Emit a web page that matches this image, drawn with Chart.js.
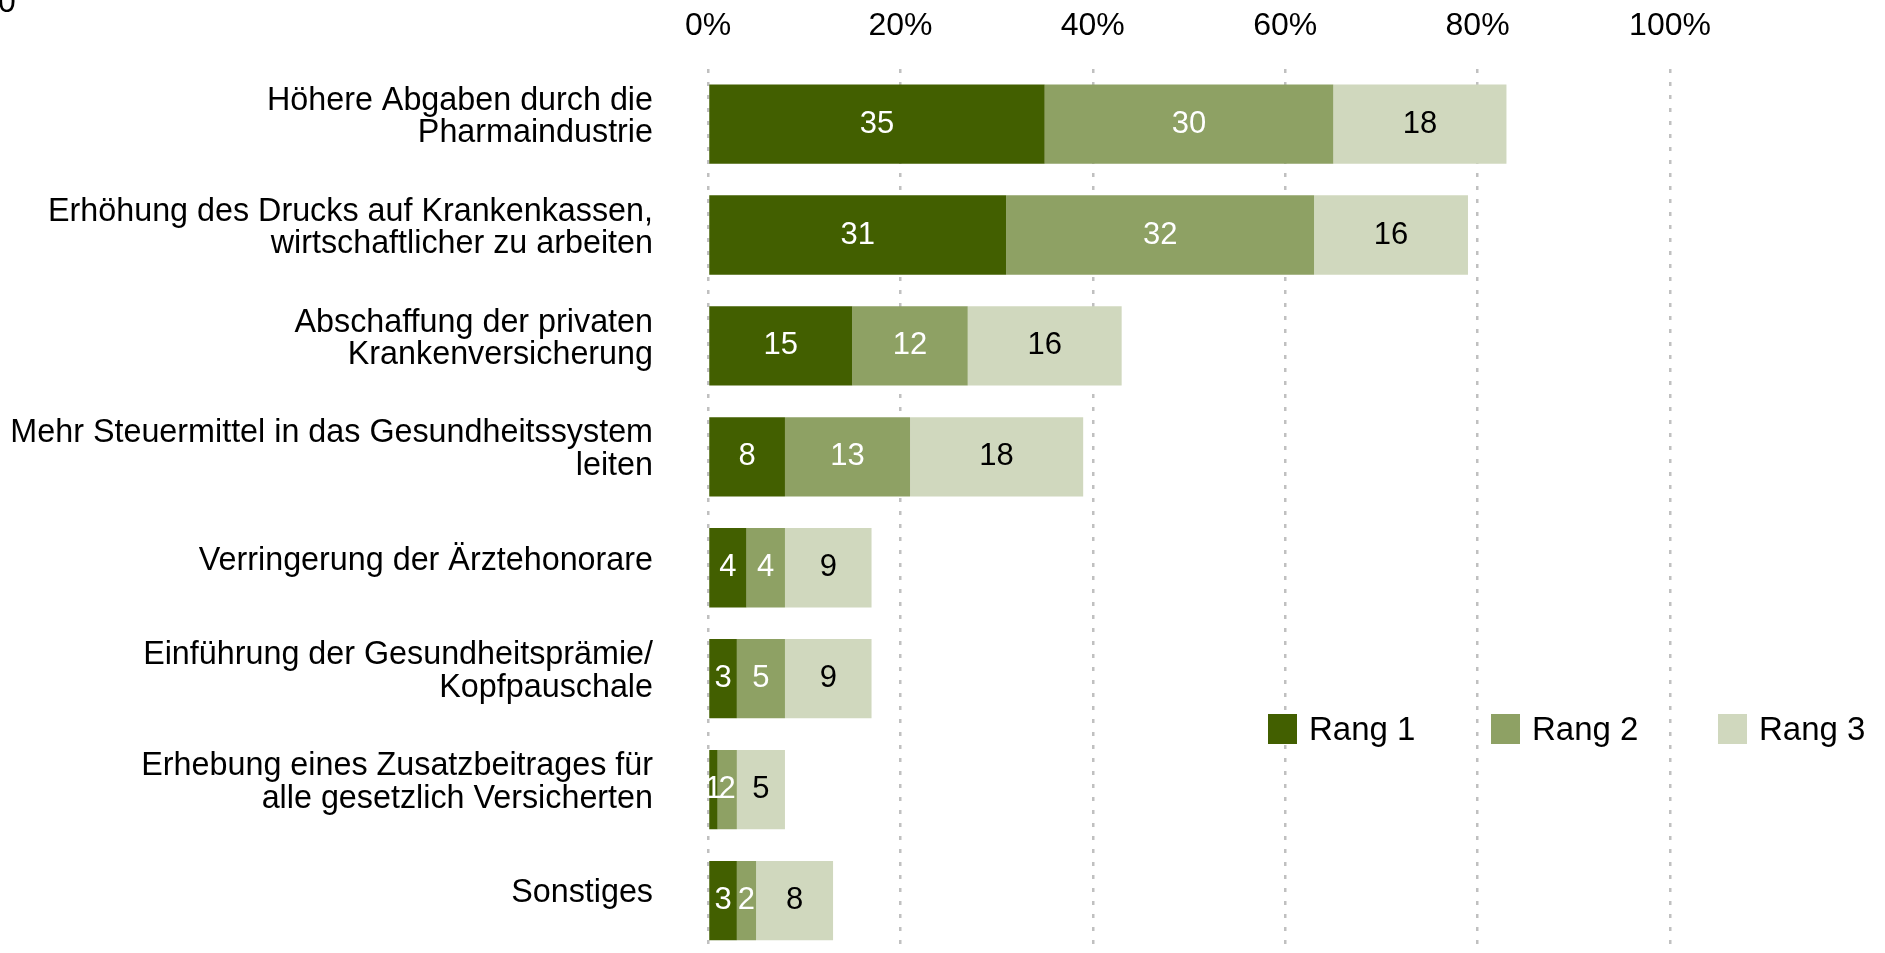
<!DOCTYPE html>
<html lang="de">
<head>
<meta charset="utf-8">
<title>Rangfolge der Maßnahmen</title>
<script src="https://cdn.jsdelivr.net/npm/chart.js"></script>
<style>
  html, body { margin: 0; padding: 0; overflow: hidden; background: #ffffff; }
  #wrap { position: relative; width: 1885px; height: 953px; overflow: hidden; }
  #rankChart { display: block; }
</style>
</head>
<body>
<div id="wrap"><canvas id="rankChart" width="1885" height="960"></canvas></div>
<script>
const categories = [
    ['Höhere Abgaben durch die', 'Pharmaindustrie'],
    ['Erhöhung des Drucks auf Krankenkassen,', 'wirtschaftlicher zu arbeiten'],
    ['Abschaffung der privaten', 'Krankenversicherung'],
    ['Mehr Steuermittel in das Gesundheitssystem', 'leiten'],
    'Verringerung der Ärztehonorare',
    ['Einführung der Gesundheitsprämie/', 'Kopfpauschale'],
    ['Erhebung eines Zusatzbeitrages für', 'alle gesetzlich Versicherten'],
    'Sonstiges'
];
const seriesNames = ['Rang 1', 'Rang 2', 'Rang 3'];
const rang1 = [35, 31, 15, 8, 4, 3, 1, 3];
const rang2 = [30, 32, 12, 13, 4, 5, 2, 2];
const rang3 = [18, 16, 16, 18, 9, 9, 5, 8];
const tickValues = [0, 20, 40, 60, 80, 100];

const colors = ['#425f00', '#8ea164', '#d0d8be'];
const labelColors = ['#ffffff', '#ffffff', '#000000'];
const FONT = '"Liberation Sans", Arial, sans-serif';

/*
 Write the value in the middle of every bar segment
*/
const valueLabels = {
    id: 'valueLabels',
    afterDatasetsDraw(chart) {
        const ctx = chart.ctx;
        ctx.save();
        ctx.font = '31px ' + FONT;
        ctx.textAlign = 'center';
        ctx.textBaseline = 'middle';
        chart.data.datasets.forEach((ds, i) => {
            chart.getDatasetMeta(i).data.forEach((bar, j) => {
                ctx.fillStyle = labelColors[i];
                ctx.fillText(ds.data[j], (bar.x + bar.base) / 2, bar.y);
            });
        });
        ctx.restore();
    }
};

/*
 Legend sits inside the plot, lower right
*/
const rangLegend = {
    id: 'rangLegend',
    afterDraw(chart) {
        const ctx = chart.ctx;
        const boxX = [1268, 1491, 1718];
        ctx.save();
        ctx.font = '33px ' + FONT;
        ctx.textAlign = 'left';
        ctx.textBaseline = 'middle';
        chart.data.datasets.forEach((ds, i) => {
            ctx.fillStyle = ds.backgroundColor;
            ctx.fillRect(boxX[i], 714, 29, 30);
            ctx.fillStyle = '#000000';
            ctx.fillText(ds.label, boxX[i] + 41, 731);
        });
        // leftover digit cut at the top edge of the original picture
        ctx.font = '32px ' + FONT;
        ctx.textBaseline = 'alphabetic';
        ctx.fillText('0', -2, 12);
        ctx.restore();
    }
};

const ctx = document.getElementById('rankChart');
const rankChart = new Chart(ctx, {
    type: 'bar',
    data: {
        labels: categories,
        datasets: [rang1, rang2, rang3].map((values, i) => ({
            label: seriesNames[i],
            data: values,
            backgroundColor: colors[i],
            borderWidth: 0,
            barPercentage: 1,
            categoryPercentage: 0.715
        }))
    },
    options: {
        indexAxis: 'y',
        responsive: false,
        animation: false,
        devicePixelRatio: 1,
        layout: {
            padding: { top: 0, left: 0, right: 215, bottom: 4 }
        },
        plugins: {
            legend: { display: false },
            tooltip: { enabled: false }
        },
        scales: {
            x: {
                position: 'top',
                stacked: true,
                min: 0,
                max: 100,
                afterBuildTicks: (scale) => {
                    scale.ticks = tickValues.map(v => ({ value: v }));
                },
                afterFit: (scale) => {
                    scale.height = 68.6;
                    scale.paddingLeft = 0;
                    scale.paddingRight = 0;
                },
                grid: {
                    display: true,
                    drawTicks: false,
                    color: '#c0c0c0',
                    lineWidth: 2.5
                },
                border: { display: false, dash: [4, 9] },
                ticks: {
                    padding: 23,
                    color: '#000000',
                    font: { family: FONT, size: 32 },
                    callback: (v) => v + '%'
                }
            },
            y: {
                stacked: true,
                afterFit: (scale) => {
                    scale.width = 708;
                    // long two-line labels should not push the plot area inward
                    scale.paddingTop = 0;
                    scale.paddingBottom = 0;
                },
                border: { display: false },
                grid: { display: false, drawTicks: false },
                ticks: {
                    padding: 55,
                    labelOffset: -7,
                    color: '#000000',
                    font: { family: FONT, size: 32.3, lineHeight: 1.01 }
                }
            }
        }
    },
    plugins: [valueLabels, rangLegend]
});
</script>
</body>
</html>
